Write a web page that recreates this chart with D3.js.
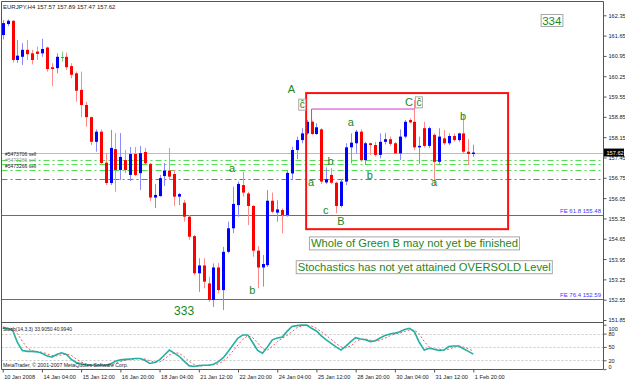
<!DOCTYPE html>
<html><head><meta charset="utf-8">
<script src="https://cdn.jsdelivr.net/npm/d3@7"></script>
<style>body{margin:0;background:#fff}svg{display:block}text{font-family:"Liberation Sans",Arial,sans-serif}</style>
</head><body><svg id="c" width="625" height="380"></svg>
<script>
// ---------- DATA ----------
const symbolTitle = "EURJPY,H4  157.57 157.89 157.47 157.62";
const opens = [161.67,162.05,162.16,160.81,160.92,161.16,161.04,161.10,161.04,161.24,
160.56,160.53,160.92,160.92,160.60,160.35,159.78,159.26,158.84,157.99,
158.34,157.27,156.57,157.74,157.02,157.36,156.85,157.57,156.91,157.64,
157.23,156.07,156.12,156.81,157.00,156.88,156.10,155.89,155.41,154.74,
153.46,153.73,153.11,152.54,153.66,152.88,154.20,155.01,155.81,156.50,
156.21,155.78,154.24,153.66,153.74,155.96,155.55,155.64,155.47,156.90,
157.71,158.05,158.28,158.68,158.26,158.42,156.59,156.85,156.58,155.78,
156.62,157.80,157.94,158.34,157.36,157.94,157.88,157.54,157.99,158.08,
157.94,157.59,158.17,158.74,158.68,157.80,158.46,157.85,158.23,157.30,
158.11,157.94,158.19,158.05,158.28,157.65,157.57];
const highs = [162.19,162.21,162.18,161.50,161.39,161.50,161.16,161.27,161.54,161.27,
160.70,161.04,161.10,161.06,160.70,160.41,160.41,159.37,158.86,158.42,
158.42,157.60,158.40,158.29,158.29,157.71,157.81,157.81,157.85,157.78,
157.26,156.54,156.85,157.26,157.78,157.02,156.23,155.98,155.47,154.78,
153.98,153.98,153.34,153.80,153.81,154.37,155.24,156.44,156.62,156.96,
156.27,155.81,154.40,154.09,156.33,156.24,155.98,155.70,157.02,157.82,
158.17,158.46,158.74,158.72,158.63,158.46,157.11,157.08,156.62,156.70,
157.94,158.28,158.40,158.42,157.99,157.96,157.99,158.28,158.30,158.17,
157.99,158.42,158.74,158.80,159.43,158.17,158.68,158.51,158.28,158.46,
158.40,158.28,158.28,158.30,158.92,158.08,157.89];
const lows = [161.52,161.98,160.72,160.71,160.64,160.81,160.66,160.81,160.92,160.41,
159.91,160.35,160.75,160.47,160.18,159.37,158.84,158.51,157.88,157.65,
157.19,156.50,156.50,156.27,156.67,156.91,156.64,156.81,156.33,157.19,
155.95,155.71,156.10,156.47,156.67,155.78,155.81,155.24,154.61,153.40,
152.82,152.94,152.48,152.30,152.78,152.19,154.15,154.84,155.41,156.10,
155.12,154.03,152.94,153.00,153.68,155.53,155.24,154.84,155.41,156.67,
157.39,157.94,158.23,158.23,158.23,156.54,156.54,156.54,155.53,155.73,
156.50,157.25,157.59,157.30,157.19,157.54,157.48,157.42,157.90,157.85,
157.57,157.36,158.11,158.63,157.71,157.23,157.80,157.77,156.50,157.19,
157.88,157.88,157.99,157.99,157.59,157.19,157.47];
const closes = [162.08,162.16,160.81,160.96,161.16,161.01,160.81,161.02,161.19,160.50,
160.50,160.92,160.92,160.56,160.30,159.75,159.26,158.84,157.99,158.34,
157.26,156.57,157.78,157.02,157.47,157.02,157.57,156.85,157.60,157.25,
156.07,156.16,156.74,157.00,156.79,156.10,156.19,155.41,154.72,153.46,
153.73,153.17,152.54,153.66,152.88,154.20,155.01,155.85,156.54,156.24,
155.78,154.24,153.66,153.78,155.96,155.58,155.66,155.47,156.92,157.71,
158.05,158.28,158.68,158.26,158.49,156.62,156.70,156.58,155.78,156.62,
157.80,157.96,158.34,157.36,157.94,157.88,157.54,157.99,158.08,157.92,
157.59,158.17,158.68,158.66,157.80,157.85,157.85,158.46,157.30,158.17,
157.94,158.19,158.05,158.28,157.65,157.57,157.62];

const stochMain = [92,91,88,60,42,40,40,39,36,30,
27,33,37,33,22,15,12,10,9,9,
9,9,12,18,21,22,23,24,24,20,
13,15,21,32,43,36,29,18,8,6,
8,9,9,11,17,26,40,55,70,77,
77,60,42,36,50,66,70,72,85,96,
98,99,99,92,86,75,66,58,50,43,
52,62,71,68,66,62,64,70,76,79,
81,84,89,92,84,60,43,47,45,42,
43,51,52,52,46,40,33.905];
const stochSignal = [95,93,91,80,63,48,41,40,38,35,
31,30,32,34,31,23,16,12,10,9,
9,9,10,13,17,20,22,23,24,23,
19,16,16,23,32,37,36,28,18,11,
7,8,9,10,12,18,28,41,55,67,
75,71,59,46,43,51,62,69,76,84,
93,97,99,97,92,84,76,67,58,50,
48,52,62,67,68,65,64,65,70,75,
79,81,85,88,88,79,62,50,45,45,
43,45,49,52,50,46,40.994];

const priceTicks = [162.35,161.65,160.95,160.25,159.55,158.85,158.15,157.45,156.75,156.05,155.35,154.65,153.95,153.25,152.55,151.85];
const stochTicks = [100,80,50,20,0];
const stochLevels = [80,50,20];
const timeBars = [0,8,16,24,32,40,48,56,64,72,80,88,96];
const timeLabels = ["10 Jan 2008","14 Jan 04:00","15 Jan 12:00","16 Jan 20:00","18 Jan 04:00","21 Jan 12:00","22 Jan 20:00","24 Jan 04:00","25 Jan 12:00","28 Jan 20:00","30 Jan 04:00","31 Jan 12:00","1 Feb 20:00"];
const currentPrice = 157.62;
const feLevels = [155.48, 152.59];
const feNames = ["FE 61.8", "FE 76.4"];
const orderLevels = [157.36, 157.24, 157.02];
const orderNames = ["#5473706 sell", "#5473286 sell", "#5473266 sell"];
const stopLevel = 156.70;
const boxBars = [61.9, 103.1];
const boxPrices = [159.67, 154.98];
const magentaBars = [63, 63, 84];
const magentaPrices = [158.67, 159.12, 159.12];
const waveText = ["A","a","b","a","b","c","B","a","b","C","b","a","333"];
const waveBar = [58.9,46.8,50.9,62.9,66.9,65.9,69.0,71.0,74.9,82.9,93.9,88.0,37.0];
const wavePrice = [159.81,157.09,152.88,156.61,157.33,155.64,155.26,158.67,156.86,159.35,158.88,156.61,152.16];
const markText = ["ĉ","ĉ","334"];
const markBar = [61.1,84.9,112.0];
const markPrice = [159.27,159.35,162.17];
const noteText = ["Whole of Green B may not yet be finished","Stochastics has not yet attained OVERSOLD Level"];
const noteBar = [84.0,86.0];
const notePrice = [154.49,153.67];
const stochTitle = "Stoch(14,3,3) 33.9050 40.9940";
const copyright = "MetaTrader, © 2001-2007 MetaQuotes Software Corp.";

// ---------- CHART ----------
const svg = d3.select('#c');
const edgeR = 603.5, edgeL = 1.5, edgeT = 1.5, edgeSep = 322.5, edgeB = 369.5;
const x = d3.scaleLinear().domain([0,96]).range([2.7,473.3]);
const y = d3.scaleLinear().domain([151.85,162.35]).range([320,15.3]);
const ys = d3.scaleLinear().domain([0,100]).range([369.2,324.7]);
const green = "#1d861d";

svg.append('rect').attr('width',625).attr('height',380).attr('fill','#fff');
const defs = svg.append('defs');
defs.append('clipPath').attr('id','mainClip').append('rect').attr('x',edgeL).attr('y',edgeT).attr('width',edgeR-edgeL).attr('height',edgeSep-edgeT);
defs.append('clipPath').attr('id','stClip').append('rect').attr('x',edgeL).attr('y',edgeSep+0.5).attr('width',edgeR-edgeL).attr('height',edgeB-edgeSep-1);

const main = svg.append('g').attr('clip-path','url(#mainClip)');

// horizontal levels
const hl = (p,color,dash,w) => main.append('line').attr('x1',edgeL).attr('x2',edgeR)
  .attr('y1',Math.round(y(p))+0.5).attr('y2',Math.round(y(p))+0.5)
  .attr('stroke',color).attr('stroke-width',w||1).attr('stroke-dasharray',dash||null);
hl(currentPrice,'#bdbdbd');
orderLevels.forEach(p=>hl(p,'#55dd55','6,3,2,3'));
hl(stopLevel,'#e84848','6,3,2,3');
feLevels.forEach(p=>hl(p,'#5a5aff'));
feLevels.forEach((p,i)=>main.append('text').attr('x',601).attr('y',y(p)-2)
  .attr('text-anchor','end').attr('font-size',6).attr('fill','#3a3aff').text(feNames[i]+"  "+p.toFixed(2)));
const orderDy = [-3.8, -1.2, -1.6];
orderNames.forEach((t,i)=>main.append('text').attr('x',5).attr('y',y(orderLevels[i])+orderDy[i])
  .attr('font-size',5).attr('fill', i===1?'#999':'#222').text(t));

// candles
const idx = d3.range(opens.length);
const cg = main.append('g');
idx.forEach(i=>{
  const xc = Math.round(x(i));
  const up = closes[i] > opens[i], dn = closes[i] < opens[i];
  const col = up ? '#0000ff' : dn ? '#ff0000' : '#40b040';
  const wcol = up ? '#8a8aff' : dn ? '#ff8a8a' : '#80d080';
  cg.append('line').attr('x1',xc+0.5).attr('x2',xc+0.5).attr('y1',y(highs[i])).attr('y2',y(lows[i]))
    .attr('stroke',wcol).attr('stroke-width',1);
  const y0 = y(Math.max(opens[i],closes[i])), y1 = y(Math.min(opens[i],closes[i]));
  if (up || dn) {
    cg.append('rect').attr('x',xc-1).attr('y',y0).attr('width',3).attr('height',Math.max(1,y1-y0)).attr('fill',col);
  } else {
    cg.append('line').attr('x1',xc-1).attr('x2',xc+2).attr('y1',Math.round(y0)+0.5).attr('y2',Math.round(y0)+0.5).attr('stroke',col);
  }
});

// objects
main.append('polyline').attr('points',magentaBars.map((b,i)=>[x(b),y(magentaPrices[i])].join(',')).join(' '))
  .attr('fill','none').attr('stroke','#d535d5').attr('stroke-width',1);
main.append('rect').attr('x',x(boxBars[0])).attr('y',y(boxPrices[0]))
  .attr('width',x(boxBars[1])-x(boxBars[0])).attr('height',y(boxPrices[1])-y(boxPrices[0]))
  .attr('fill','none').attr('stroke','#ff1010').attr('stroke-width',2);

waveText.forEach((t,i)=>main.append('text').attr('x',x(waveBar[i])).attr('y',y(wavePrice[i]))
  .attr('text-anchor','middle').attr('dominant-baseline','central')
  .attr('font-size', t==='333'?12:11).attr('fill',green).text(t));

markText.forEach((t,i)=>{
  const g = main.append('g');
  const tx = g.append('text').attr('x',x(markBar[i])).attr('y',y(markPrice[i]))
    .attr('text-anchor','middle').attr('dominant-baseline','central')
    .attr('font-size', t==='334'?11.5:10).attr('fill',green).text(t);
  const bb = tx.node().getBBox();
  g.insert('rect','text').attr('x',bb.x-1).attr('y',bb.y).attr('width',bb.width+2).attr('height',bb.height)
    .attr('fill','#fff').attr('stroke','#a8a8a8');
});

noteText.forEach((t,i)=>{
  const g = main.append('g');
  const tx = g.append('text').attr('x',x(noteBar[i])).attr('y',y(notePrice[i]))
    .attr('text-anchor','middle').attr('dominant-baseline','central')
    .attr('font-size',11.2).attr('fill',green).text(t);
  const bb = tx.node().getBBox();
  g.insert('rect','text').attr('x',bb.x-1.5).attr('y',bb.y-0.5).attr('width',bb.width+3).attr('height',bb.height+1)
    .attr('fill','#fff').attr('stroke','#a8a8a8');
});

svg.append('text').attr('x',3).attr('y',8.5).attr('font-size',6).attr('fill','#222').text(symbolTitle);

// stochastic
const st = svg.append('g').attr('clip-path','url(#stClip)');
stochLevels.forEach(v=>st.append('line').attr('x1',edgeL).attr('x2',edgeR)
  .attr('y1',Math.round(ys(v))+0.5).attr('y2',Math.round(ys(v))+0.5)
  .attr('stroke','#c8c8c8').attr('stroke-dasharray','2,2'));
const line = d3.line().x((d,i)=>x(i)).y(d=>ys(d));
st.append('path').datum(stochSignal).attr('d',line).attr('fill','none')
  .attr('stroke','#f05858').attr('stroke-width',1).attr('stroke-dasharray','2,2');
st.append('path').datum(stochMain).attr('d',line).attr('fill','none')
  .attr('stroke','#22b0a4').attr('stroke-width',1.6);
svg.append('text').attr('x',3).attr('y',331).attr('font-size',5).attr('fill','#222').text(stochTitle);
svg.append('text').attr('x',3).attr('y',367).attr('font-size',5.2).attr('fill','#222').text(copyright);

// frames
const fr = svg.append('g').attr('stroke','#555').attr('stroke-width',1).attr('fill','none');
fr.append('line').attr('x1',edgeL).attr('x2',edgeR).attr('y1',edgeT).attr('y2',edgeT);
fr.append('line').attr('x1',edgeL).attr('x2',edgeR).attr('y1',edgeSep).attr('y2',edgeSep);
fr.append('line').attr('x1',edgeL).attr('x2',edgeR).attr('y1',edgeB).attr('y2',edgeB);
fr.append('line').attr('x1',edgeL).attr('x2',edgeL).attr('y1',edgeT).attr('y2',edgeB);
fr.append('line').attr('x1',edgeR).attr('x2',edgeR).attr('y1',edgeT).attr('y2',edgeB);

// axes
const pax = svg.append('g').attr('transform',`translate(${edgeR},0)`)
  .call(d3.axisRight(y).tickValues(priceTicks).tickSize(3).tickPadding(2).tickFormat(d3.format('.2f')));
const sax = svg.append('g').attr('transform',`translate(${edgeR},0)`)
  .call(d3.axisRight(ys).tickValues(stochTicks).tickSize(3).tickPadding(2));
const tax = svg.append('g').attr('transform',`translate(0,${edgeB})`)
  .call(d3.axisBottom(x).tickValues(timeBars).tickSize(3).tickPadding(1).tickFormat((d,i)=>timeLabels[i]));
[pax,sax,tax].forEach(a=>{
  a.select('.domain').remove();
  a.selectAll('line').attr('stroke','#555');
  a.selectAll('text').attr('font-size',5.6).attr('fill','#222').attr('font-family','"Liberation Sans",Arial,sans-serif');
});
tax.selectAll('text').attr('text-anchor','start').attr('dx',1).attr('dy','0.9em');
sax.selectAll('text').attr('dy',d=> d===100 ? '0.95em' : d===0 ? '-0.1em' : '0.32em');
pax.selectAll('text').attr('dy','0.35em');

// current price box
const cp = svg.append('g');
cp.append('rect').attr('x',edgeR+0.5).attr('y',y(currentPrice)-4).attr('width',20).attr('height',8).attr('fill','#000');
cp.append('text').attr('x',edgeR+3).attr('y',y(currentPrice)).attr('dominant-baseline','central')
  .attr('font-size',5.6).attr('fill','#fff').text(currentPrice.toFixed(2));
</script></body></html>
